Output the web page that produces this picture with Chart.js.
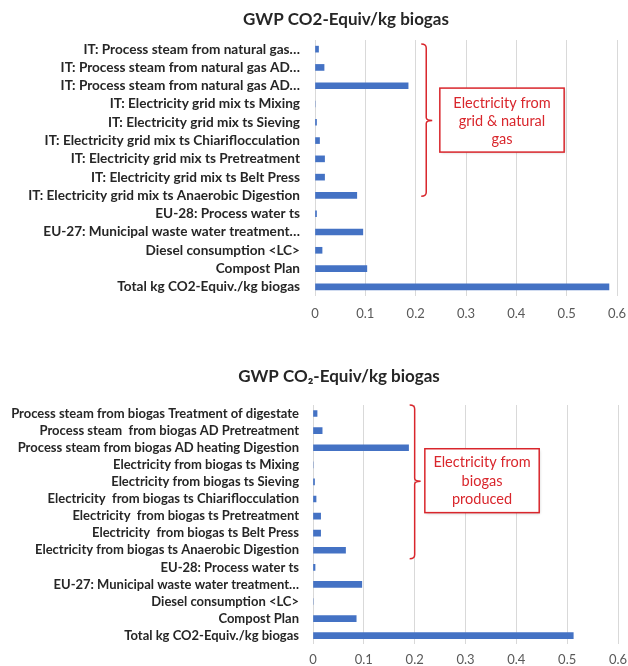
<!DOCTYPE html>
<html><head><meta charset="utf-8">
<script src="https://cdn.jsdelivr.net/npm/chart.js@4.4.1/dist/chart.umd.min.js"></script>
<style>
html,body{margin:0;padding:0;background:#fff;width:628px;height:666px;overflow:hidden;position:relative}
.wrap{position:absolute;left:0}
#w1{top:0;width:640px;height:330px}
#w2{top:326px;width:640px;height:340px}
canvas{display:block}
</style></head><body>
<div class="wrap" id="w1"><canvas id="c1" width="640" height="330"></canvas></div>
<div class="wrap" id="w2"><canvas id="c2" width="640" height="340"></canvas></div>
<script>
// ---------- data ----------
const title1 = 'GWP CO2-Equiv/kg biogas';
const title2 = 'GWP CO\u2082-Equiv/kg biogas';

const categories1 = [
  'IT: Process steam from natural gas\u2026',
  'IT: Process steam from natural gas AD\u2026',
  'IT: Process steam from natural gas AD\u2026',
  'IT: Electricity grid mix ts Mixing',
  'IT: Electricity grid mix ts Sieving',
  'IT: Electricity grid mix ts Chiariflocculation',
  'IT: Electricity grid mix ts Pretreatment',
  'IT: Electricity grid mix ts Belt Press',
  'IT: Electricity grid mix ts Anaerobic Digestion',
  'EU-28: Process water ts',
  'EU-27: Municipal waste water treatment\u2026',
  'Diesel consumption <LC>',
  'Compost Plan',
  'Total kg CO2-Equiv./kg biogas'
];
const values1 = [0.007, 0.018, 0.185, 0, 0.003, 0.009, 0.019, 0.019, 0.083, 0.003, 0.095, 0.014, 0.103, 0.584];

const categories2 = [
  'Process steam from biogas Treatment of digestate',
  'Process steam  from biogas AD Pretreatment',
  'Process steam from biogas AD heating Digestion',
  'Electricity from biogas ts Mixing',
  'Electricity from biogas ts Sieving',
  'Electricity  from biogas ts Chiariflocculation',
  'Electricity  from biogas ts Pretreatment',
  'Electricity  from biogas ts Belt Press',
  'Electricity from biogas ts Anaerobic Digestion',
  'EU-28: Process water ts',
  'EU-27: Municipal waste water treatment\u2026',
  'Diesel consumption <LC>',
  'Compost Plan',
  'Total kg CO2-Equiv./kg biogas'
];
const values2 = [0.008, 0.018, 0.188, 0, 0.003, 0.006, 0.015, 0.015, 0.064, 0.004, 0.096, 0, 0.085, 0.512];

const xTickLabels = ['0', '0.1', '0.2', '0.3', '0.4', '0.5', '0.6'];
const note1 = ['Electricity from', 'grid & natural', 'gas'];
const note2 = ['Electricity from', 'biogas', 'produced'];

// ---------- drawing ----------
const RED = '#D9262C';
function notePlugin(g, titleSpan) {
  return {
    id: 'note',
    afterLayout(chart) {
      const t = chart.titleBlock;
      if (t) { t.left = titleSpan[0]; t.right = titleSpan[1]; t.width = titleSpan[1] - titleSpan[0]; }
    },
    afterDraw(chart) {
      const ctx = chart.ctx, x = chart.scales.x, y = chart.scales.y;
      const y0 = y.getPixelForValue(0);
      const rh = y.getPixelForValue(1) - y0;
      const ry = r => y0 + r * rh;
      ctx.save();
      ctx.strokeStyle = RED;
      ctx.lineWidth = 1.5;
      // brace
      const bx = x.getPixelForValue(g.braceX);
      const top = ry(g.braceTop), mid = ry(g.braceMid), bot = ry(g.braceBot);
      const w = 5;
      ctx.beginPath();
      ctx.moveTo(bx - w, top);
      ctx.quadraticCurveTo(bx, top, bx, top + 4);
      ctx.lineTo(bx, mid - 3);
      ctx.quadraticCurveTo(bx, mid, bx + w + 1, mid);
      ctx.quadraticCurveTo(bx, mid, bx, mid + 3);
      ctx.lineTo(bx, bot - 4);
      ctx.quadraticCurveTo(bx, bot, bx - w, bot);
      ctx.stroke();
      // box
      const l = x.getPixelForValue(g.boxL), r = x.getPixelForValue(g.boxR);
      const t = ry(g.boxT), b = ry(g.boxB);
      ctx.shadowColor = 'rgba(0,0,0,0.25)';
      ctx.shadowBlur = 3; ctx.shadowOffsetX = 1; ctx.shadowOffsetY = 1;
      ctx.fillStyle = '#fff';
      ctx.fillRect(l, t, r - l, b - t);
      ctx.shadowColor = 'transparent';
      ctx.strokeRect(l, t, r - l, b - t);
      ctx.fillStyle = RED;
      ctx.font = '14.5px Lato';
      ctx.textAlign = 'center';
      ctx.textBaseline = 'middle';
      const cx = (l + r) / 2;
      g.lines.forEach((s, i) => ctx.fillText(s, cx, ry(g.textRows[i])));
      ctx.restore();
    }
  };
}

function makeChart(id, opt) {
  return new Chart(document.getElementById(id), {
    type: 'bar',
    data: {
      labels: opt.categories,
      datasets: [{ data: opt.values, backgroundColor: '#4472C4', barThickness: 6 }]
    },
    options: {
      indexAxis: 'y',
      responsive: false,
      animation: false,
      devicePixelRatio: 1,
      layout: { padding: { left: 0, right: opt.padR, top: 0, bottom: 0 } },
      plugins: {
        legend: { display: false },
        tooltip: { enabled: false },
        title: {
          display: true, text: opt.title, color: '#262626',
          font: { family: 'Lato', size: 17, weight: 'bold', lineHeight: 1.2 },
          padding: { top: opt.tPadT, bottom: opt.tPadB }
        }
      },
      scales: {
        x: {
          min: 0, max: 0.6,
          grid: { color: '#D9D9D9', drawTicks: false },
          border: { display: false },
          ticks: {
            stepSize: 0.1, padding: opt.xPad, color: '#595959',
            font: { family: 'Lato', size: 13 },
            callback: (v, i) => xTickLabels[i]
          },
          afterFit: s => { s.height = opt.xH; }
        },
        y: {
          grid: { display: false, drawTicks: false },
          border: { display: false },
          ticks: {
            padding: opt.yPad, color: '#262626', autoSkip: false,
            font: { family: 'Lato', size: opt.yFont, weight: 'bold' }
          },
          afterFit: s => { s.width = opt.yW; }
        }
      }
    },
    plugins: [notePlugin(opt.note, opt.titleSpan)]
  });
}

makeChart('c1', {
  categories: categories1, values: values1, title: title1,
  padR: 23, tPadT: 9.6, tPadB: 10, titleSpan: [0, 692],
  xH: 34, xPad: 10, yW: 315, yPad: 15, yFont: 13.6,
  note: { braceX: 0.221, braceTop: -0.28, braceMid: 3.9, braceBot: 8.05,
          boxL: 0.248, boxR: 0.495, boxT: 2.13, boxB: 5.63,
          lines: note1, textRows: [2.95, 3.93, 4.92] }
});

makeChart('c2', {
  categories: categories2, values: values2, title: title2,
  padR: 22, tPadT: 40.8, tPadB: 17.8, titleSpan: [0, 678],
  xH: 21, xPad: 8, yW: 313, yPad: 14, yFont: 13,
  note: { braceX: 0.2, braceTop: -0.5, braceMid: 3.97, braceBot: 8.5,
          boxL: 0.22, boxR: 0.445, boxT: 2.06, boxB: 5.8,
          lines: note2, textRows: [2.88, 3.99, 5.04] }
});
</script>
</body></html>
